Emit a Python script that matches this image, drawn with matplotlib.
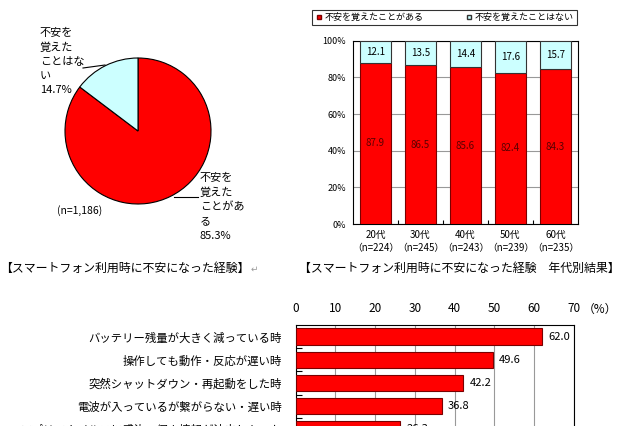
import matplotlib
matplotlib.use("Agg")
import matplotlib.pyplot as plt
from matplotlib.lines import Line2D
import numpy as np

plt.rcParams['font.family'] = ['Noto Sans CJK JP', 'DejaVu Sans']

# ---------------- data ----------------
pie_labels = ["不安を\n覚えた\nことがあ\nる\n85.3%", "不安を\n覚えた\nことはな\nい\n14.7%"]
pie_values = [85.3, 14.7]
pie_n = "(n=1,186)"

age_groups = ["20代\n（n=224）", "30代\n（n=245）", "40代\n（n=243）", "50代\n（n=239）", "60代\n（n=235）"]
anxious = [87.9, 86.5, 85.6, 82.4, 84.3]
not_anxious = [12.1, 13.5, 14.4, 17.6, 15.7]
series_names = ["不安を覚えたことがある", "不安を覚えたことはない"]

situations = [
    "バッテリー残量が大きく減っている時",
    "操作しても動作・反応が遅い時",
    "突然シャットダウン・再起動をした時",
    "電波が入っているが繋がらない・遅い時",
    "アプリでウイルスに感染、個人情報が流出しないか",
]
situation_values = [62.0, 49.6, 42.2, 36.8, 26.3]

RED = "#FF0000"
CYAN = "#CCFFFF"
W, H = 623, 426

fig = plt.figure(figsize=(W / 100, H / 100), dpi=100)
fig.patch.set_facecolor("white")


def fx(px):
    return px / W


def fy(py):
    return 1 - py / H


# ---------------- pie ----------------
cx, cy, r = 138, 131, 73
axp = fig.add_axes([fx(cx - r), fy(cy + r), 2 * r / W, 2 * r / H])
axp.pie(pie_values, colors=[RED, CYAN], startangle=90, counterclock=False,
        wedgeprops=dict(edgecolor="black", linewidth=0.8))
axp.set_xlim(-1.0, 1.0)
axp.set_ylim(-1.0, 1.0)
axp.set_aspect("auto")

fig.text(fx(200), fy(173), pie_labels[0], fontsize=8, va="top", ha="left", linespacing=1.5)
fig.text(fx(40), fy(28), pie_labels[1], fontsize=8, va="top", ha="left", linespacing=1.5)
fig.text(fx(57), fy(211), pie_n, fontsize=7.5, va="center", ha="left")
fig.add_artist(Line2D([fx(174), fx(198)], [fy(197), fy(197)], color="black", lw=0.8))
fig.add_artist(Line2D([fx(83), fx(105)], [fy(68), fy(65)], color="black", lw=0.8))

fig.text(fx(0), fy(268), "【スマートフォン利用時に不安になった経験】", fontsize=8.6, va="center", ha="left")
fig.text(fx(251), fy(269), "↵", fontsize=6.5, va="center", ha="left", color="#999999")

# ---------------- stacked bars ----------------
axb = fig.add_axes([fx(353), fy(224), 225 / W, 183.3 / H])
x = np.arange(len(age_groups))
axb.bar(x, anxious, width=0.667, color=RED, edgecolor="#7a0000", linewidth=0.8, zorder=3,
        label=series_names[0])
axb.bar(x, not_anxious, bottom=anxious, width=0.667, color=CYAN, edgecolor="#333333",
        linewidth=0.8, zorder=3, label=series_names[1])
for xi, a, b in zip(x, anxious, not_anxious):
    axb.text(xi, a / 2, f"{a:.1f}", ha="center", va="center", fontsize=7, color="#5a0000", zorder=4)
    axb.text(xi, a + b / 2, f"{b:.1f}", ha="center", va="center", fontsize=7, color="black", zorder=4)
axb.set_xlim(-0.5, len(age_groups) - 0.5)
axb.set_ylim(0, 100)
axb.set_yticks(np.arange(0, 101, 20))
axb.set_yticklabels([f"{v}%" for v in range(0, 101, 20)], fontsize=6.5)
axb.set_xticks(x)
axb.set_xticklabels(age_groups, fontsize=7, linespacing=1.5)
axb.tick_params(axis="x", length=0, pad=4)
axb.tick_params(axis="y", length=0, pad=5)
axb.set_xticks(x[:-1] + 0.5, minor=True)
axb.tick_params(axis="x", which="minor", direction="in", length=3, width=0.8)
axb.yaxis.grid(True, color="#999999", linewidth=0.8, zorder=0)
for s in axb.spines.values():
    s.set_color("black")
    s.set_linewidth(0.8)

handles = [Line2D([], [], marker="s", linestyle="none", markersize=3.5, markerfacecolor=RED,
                  markeredgecolor="#7a0000"),
           Line2D([], [], marker="s", linestyle="none", markersize=3.5, markerfacecolor=CYAN,
                  markeredgecolor="#333333")]
leg = fig.legend(handles, series_names, ncol=2, loc="center",
                 bbox_to_anchor=(fx(312), fy(27), 265 / W, 19 / H), mode="expand",
                 fontsize=6.5, frameon=True, fancybox=False, edgecolor="black",
                 handletextpad=0.2, handlelength=0.8, borderpad=0.35, borderaxespad=0)
leg.get_frame().set_linewidth(0.8)

fig.text(fx(299), fy(268), "【スマートフォン利用時に不安になった経験　年代別結果】", fontsize=8.6,
         va="center", ha="left")

# ---------------- horizontal bars ----------------
n = len(situations)
sp = 23.1
top = 325.2
axh = fig.add_axes([fx(295.7), fy(top + n * sp), (573.8 - 295.7) / W, n * sp / H])
y = np.arange(n)
axh.barh(y, situation_values, height=0.72, color=RED, edgecolor="#7a0000", linewidth=0.8, zorder=3)
for yi, v in zip(y, situation_values):
    axh.text(v + 1.5, yi, f"{v:.1f}", ha="left", va="center", fontsize=8)
axh.set_xlim(0, 70)
axh.set_ylim(n - 0.5, -0.5)
axh.xaxis.tick_top()
axh.set_xticks(np.arange(0, 71, 10))
axh.set_xticklabels([str(v) for v in range(0, 71, 10)], fontsize=8.5)
axh.tick_params(axis="x", length=0, pad=7)
axh.set_yticks(y)
axh.set_yticklabels(situations, fontsize=8.2)
axh.tick_params(axis="y", length=0, pad=10)
axh.set_yticks(y[:-1] + 0.5, minor=True)
axh.tick_params(axis="y", which="minor", direction="in", length=4, width=0.8)
axh.xaxis.grid(True, color="#999999", linewidth=0.8, zorder=0)
for s in axh.spines.values():
    s.set_color("black")
    s.set_linewidth(0.8)
fig.text(fx(583), fy(309), "（%）", fontsize=8.5, va="center", ha="left")

fig.savefig("out.png", dpi=100)
